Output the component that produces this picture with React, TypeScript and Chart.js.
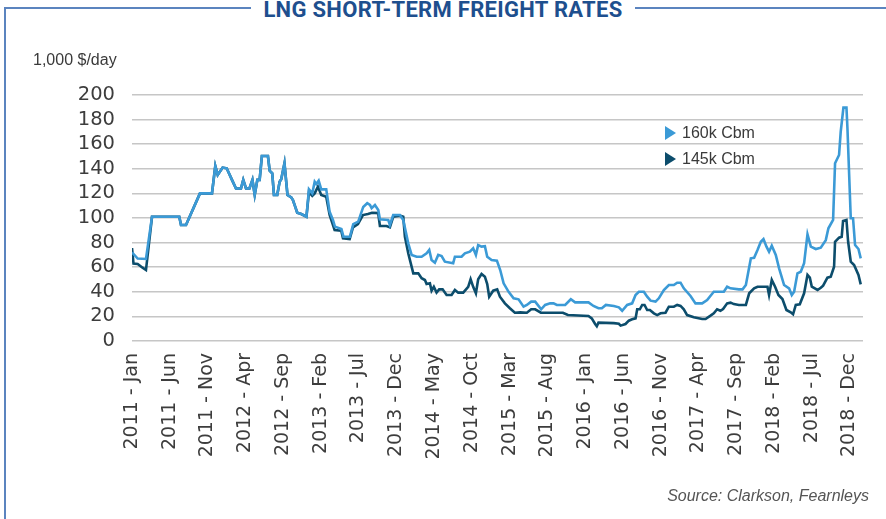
import React, { useEffect, useRef } from "react";
import { Chart, registerables } from "chart.js";

Chart.register(...registerables);

const TITLE = "LNG SHORT-TERM FREIGHT RATES";
const UNIT_LABEL = "1,000 $/day";
const SOURCE = "Source: Clarkson, Fearnleys";
const SERIES_NAMES = ["160k Cbm", "145k Cbm"];
const SERIES_COLORS = ["#3b9ad6", "#0c4d6c"];

// x positions are months since 2011 - Jan
const tickMonths = [0, 5, 10, 15, 20, 25, 30, 35, 40, 45, 50, 55, 60, 65, 70, 75, 80, 85, 90, 95];
const tickLabels = [
  "2011 - Jan", "2011 - Jun", "2011 - Nov", "2012 - Apr", "2012 - Sep",
  "2013 - Feb", "2013 - Jul", "2013 - Dec", "2014 - May", "2014 - Oct",
  "2015 - Mar", "2015 - Aug", "2016 - Jan", "2016 - Jun", "2016 - Nov",
  "2017 - Apr", "2017 - Sep", "2018 - Feb", "2018 - Jul", "2018 - Dec",
];
const yTicks = [0, 20, 40, 60, 80, 100, 120, 140, 160, 180, 200];

const months160 = [
  0, 0.75, 1.85, 2.65, 6.26, 6.49, 7.15, 9.0, 10.59, 11.03,
  11.35, 12.0, 12.54, 13.24, 13.77, 14.43, 14.73, 15.1, 15.55, 15.95,
  16.25, 16.6, 16.9, 17.2, 18.0, 18.23, 18.57, 18.8, 19.23, 19.55,
  19.76, 20.19, 20.59, 21.09, 21.31, 21.62, 21.88, 22.41, 23.1, 23.43,
  23.87, 24.19, 24.4, 24.72, 25.06, 25.72, 26.17, 26.61, 26.87, 27.73,
  28.0, 28.86, 29.3, 29.96, 30.62, 31.15, 31.51, 31.73, 32.17, 32.61,
  32.83, 33.93, 34.15, 34.59, 35.48, 35.92, 36.58, 37.03, 37.69, 38.35,
  39.01, 39.36, 39.67, 40.11, 40.55, 41.0, 41.43, 42.53, 42.76, 43.64,
  44.08, 44.74, 45.18, 45.54, 45.84, 46.29, 46.73, 47.04, 47.62, 48.32,
  48.76, 49.21, 49.87, 50.53, 51.19, 51.85, 52.29, 52.86, 53.39, 54.18,
  54.71, 55.37, 55.82, 56.26, 57.36, 58.11, 58.68, 60.45, 61.11, 61.77,
  62.22, 62.75, 63.81, 64.47, 64.91, 65.57, 66.23, 66.68, 67.12, 67.78,
  68.22, 68.67, 69.33, 69.76, 70.43, 71.09, 71.75, 72.19, 72.64, 73.07,
  73.96, 74.62, 75.5, 76.16, 77.04, 78.37, 78.81, 79.26, 80.36, 80.85,
  81.29, 81.95, 82.38, 82.83, 83.27, 83.62, 84.02, 84.36, 84.72, 85.25,
  85.69, 86.35, 87.01, 87.37, 87.68, 88.12, 88.56, 89.0, 89.45, 89.89,
  90.55, 91.21, 91.87, 92.22, 92.84, 93.1, 93.63, 93.85, 94.21, 94.61,
  94.74, 95.18, 95.48, 95.75, 96.2, 96.5,
];
const rates160 = [
  72, 67, 66.7, 101, 101, 94.3, 94.3, 120, 120, 142.3,
  135, 141, 140.4, 131, 124, 124, 131, 124, 124, 131,
  118.7, 131, 131, 150.4, 150.4, 138.5, 136.3, 118.7, 118.7, 129.5,
  131.5, 144.5, 118.7, 116.8, 114.6, 109, 104.3, 103.2, 101, 123.3,
  120, 129.5, 127.6, 130.3, 123.3, 123.3, 105, 98.4, 93, 91,
  84.8, 84.8, 95, 97, 109, 112, 110.6, 108, 110.6, 106.5,
  99, 98.4, 94.3, 102.4, 102.4, 98.4, 79.4, 70, 68.5, 68.5,
  71.3, 74, 65.9, 63.7, 70, 69, 64.5, 63.2, 68.5, 68.5,
  71.3, 72.6, 75.4, 70, 78, 76.7, 77, 68.5, 65.9, 65.3,
  57.7, 46.9, 40, 34.7, 33.9, 27.9, 29.3, 32, 32, 25.8,
  29.3, 30.6, 30.6, 29.3, 29.3, 33.9, 31.4, 31.4, 28.5, 26.6,
  26.6, 29.3, 28.5, 27.4, 24.6, 29.3, 30.6, 37.4, 40, 40,
  36, 32.8, 32, 34.7, 41.5, 45.5, 45.5, 47.4, 47.4, 42.8,
  36.6, 30.6, 30.6, 33.3, 40, 40, 44.1, 42.8, 42, 42,
  45.5, 67.2, 67.7, 74, 80.7, 82.9, 76.7, 72.6, 77.5, 70,
  59.1, 45.5, 42.8, 37.4, 40, 55, 56.3, 63.2, 86.7, 76.7,
  74.8, 75.9, 82, 91.6, 98.4, 144.5, 151.2, 170.2, 189.7, 189.7,
  173, 99.8, 99.8, 78, 74.8, 67.2,
];

const months145 = [
  0, 0.2, 0.75, 1.4, 1.85, 2.65, 6.26, 6.49, 7.15, 9.0,
  10.59, 11.03, 11.35, 12.0, 12.54, 13.24, 13.77, 14.43, 14.73, 15.1,
  15.55, 15.95, 16.25, 16.6, 16.9, 17.2, 18.0, 18.23, 18.57, 18.8,
  19.23, 19.55, 19.76, 20.19, 20.59, 21.09, 21.31, 21.62, 21.88, 22.41,
  23.1, 23.43, 23.87, 24.19, 24.62, 25.06, 25.72, 26.17, 26.83, 27.71,
  27.94, 28.82, 29.26, 29.92, 30.58, 31.24, 31.78, 32.6, 32.83, 33.71,
  34.15, 34.59, 35.48, 35.92, 36.14, 36.58, 37.25, 37.91, 38.35, 38.79,
  39.01, 39.45, 39.67, 39.97, 40.33, 40.68, 41.13, 41.66, 42.32, 42.76,
  43.2, 43.86, 44.52, 44.84, 45.18, 45.54, 45.84, 46.29, 46.73, 47.04,
  47.3, 47.83, 48.36, 48.72, 49.38, 50.04, 50.7, 51.4, 52.29, 52.86,
  53.39, 54.14, 57.06, 57.72, 60.45, 60.88, 61.33, 61.55, 61.77, 63.8,
  64.47, 64.7, 65.35, 65.79, 66.23, 66.68, 66.9, 67.25, 67.56, 67.87,
  68.22, 68.58, 69.11, 69.55, 69.99, 70.65, 71.09, 71.75, 72.19, 72.64,
  73.07, 73.51, 74.4, 75.5, 75.95, 76.61, 77.04, 77.48, 77.92, 78.27,
  78.81, 79.26, 79.7, 80.36, 81.29, 81.73, 82.38, 82.83, 84.15, 84.36,
  84.72, 85.16, 85.6, 86.13, 86.66, 87.23, 87.54, 87.9, 88.43, 89.0,
  89.45, 89.76, 90.02, 90.78, 91.21, 91.52, 92.09, 92.53, 92.97, 93.1,
  93.63, 93.98, 94.16, 94.61, 94.83, 95.18, 95.62, 96.2, 96.5,
];
const rates145 = [
  75.6, 63, 62.6, 59.6, 57.7, 101, 101, 94.3, 94.3, 120,
  120, 142.3, 135, 141, 140.4, 131, 124, 124, 131, 124,
  124, 131, 118.7, 131, 131, 150.4, 150.4, 138.5, 136.3, 118.7,
  118.7, 129.5, 131.5, 144.5, 118.7, 116.8, 114.6, 109, 104.3, 103.2,
  101, 121, 118, 120, 125.5, 118.7, 117.3, 102.4, 90.2, 89.7,
  83.5, 82.9, 92.4, 95, 102.4, 103.2, 104.3, 104, 93.5, 93.5,
  92.4, 101, 101.9, 101, 84.8, 71.3, 55, 55, 51, 49.6,
  46.3, 46.9, 40.9, 44.1, 39.3, 42, 42, 37.4, 37.4, 41.5,
  39.3, 39.3, 44, 50.2, 44, 38.8, 50.2, 54.5, 52.3, 46.3,
  36, 40.9, 42, 36, 30.6, 26.6, 23, 23.3, 23, 25.8,
  25.8, 23, 23, 21.1, 20.3, 18.4, 13.8, 12, 14.9, 14.5,
  14, 12.5, 13.8, 16.5, 17.6, 18.4, 25.8, 25.8, 29.3, 29.3,
  25.2, 25.2, 22.5, 21.1, 22.5, 23, 27.9, 27.9, 29.3, 28.5,
  25.8, 21.1, 19.3, 17.9, 17.9, 20.6, 22.5, 25.8, 24.6, 26,
  30.6, 31.2, 30, 29.3, 29.3, 38.8, 42.8, 44.1, 44.1, 37.4,
  49.6, 44.1, 37.4, 34.1, 25.2, 23.3, 21.7, 29.3, 29.8, 38.8,
  53.7, 51.5, 44.1, 41.5, 43.3, 45, 51.5, 52.3, 60.4, 80.7,
  84, 84.8, 97.6, 98.4, 80.7, 64.5, 61.8, 53.7, 46,
];

const TICK_COLOR = "#3d3d3d";
const AXIS_FONT = "'DejaVu Sans', sans-serif";

export default function App() {
  const canvasRef = useRef<HTMLCanvasElement | null>(null);

  useEffect(() => {
    if (!canvasRef.current) return;
    const chart = new Chart(canvasRef.current, {
      type: "line",
      data: {
        datasets: [
          {
            label: SERIES_NAMES[0],
            data: months160.map((m, i) => ({ x: m, y: rates160[i] })),
            borderColor: SERIES_COLORS[0],
            backgroundColor: SERIES_COLORS[0],
            borderWidth: 2.6,
            pointRadius: 0,
            tension: 0,
            fill: false,
          },
          {
            label: SERIES_NAMES[1],
            data: months145.map((m, i) => ({ x: m, y: rates145[i] })),
            borderColor: SERIES_COLORS[1],
            backgroundColor: SERIES_COLORS[1],
            borderWidth: 2.6,
            pointRadius: 0,
            tension: 0,
            fill: false,
          },
        ],
      },
      options: {
        responsive: false,
        animation: false,
        layout: { padding: { left: 0, top: 95, right: 23, bottom: 0 } },
        plugins: {
          legend: { display: false },
          tooltip: { enabled: false },
        },
        scales: {
          x: {
            type: "linear",
            min: 0,
            max: 96.8,
            grid: { display: false, drawTicks: false },
            border: { display: false },
            afterBuildTicks: (scale: any) => {
              scale.ticks = tickMonths.map((v) => ({ value: v }));
            },
            afterFit: (scale: any) => {
              scale.height = 178;
            },
            ticks: {
              autoSkip: false,
              maxRotation: 90,
              minRotation: 90,
              padding: 12,
              color: TICK_COLOR,
              font: { family: AXIS_FONT, size: 19 },
              callback: (value: any) => {
                const idx = tickMonths.indexOf(Number(value));
                return idx >= 0 ? tickLabels[idx] : "";
              },
            },
          },
          y: {
            type: "linear",
            min: 0,
            max: 200,
            afterBuildTicks: (scale: any) => {
              scale.ticks = yTicks.map((v) => ({ value: v }));
            },
            afterFit: (scale: any) => {
              scale.width = 132;
            },
            grid: { color: "#c6c6c6", lineWidth: 1.5, drawTicks: false },
            border: { display: false },
            ticks: {
              autoSkip: false,
              padding: 17,
              color: TICK_COLOR,
              font: { family: AXIS_FONT, size: 19.5, lineHeight: 1 },
            },
          },
        },
      },
    });
    return () => chart.destroy();
  }, []);

  const frameColor = "#5b84bf";

  return (
    <div
      style={{
        position: "absolute",
        left: 0,
        top: 0,
        width: 886,
        height: 519,
        background: "#ffffff",
        overflow: "hidden",
      }}
    >
      <canvas
        ref={canvasRef}
        width={886}
        height={519}
        style={{ position: "absolute", left: 0, top: 0, width: 886, height: 519 }}
      />
      <div style={{ position: "absolute", left: 4, top: 7, width: 882, height: 2, background: frameColor }} />
      <div style={{ position: "absolute", left: 4, top: 7, width: 2, height: 512, background: frameColor }} />
      <div
        style={{
          position: "absolute",
          left: 0,
          top: -1,
          width: 886,
          textAlign: "center",
          lineHeight: "22px",
          fontFamily: "Roboto, sans-serif",
          fontWeight: 700,
          fontSize: 22,
          letterSpacing: 0.3,
          color: "#1e4f8e",
        }}
      >
        <span style={{ background: "#ffffff", padding: "0 12px" }}>{TITLE}</span>
      </div>
      <div
        style={{
          position: "absolute",
          left: 33,
          top: 52,
          fontFamily: "'Liberation Sans', Arial, sans-serif",
          fontSize: 16,
          lineHeight: "16px",
          color: "#3a3a3a",
          whiteSpace: "nowrap",
        }}
      >
        {UNIT_LABEL}
      </div>
      {SERIES_NAMES.map((name, i) => (
        <div
          key={name}
          style={{
            position: "absolute",
            left: 665,
            top: 125 + i * 25.5,
            height: 16,
            display: "flex",
            alignItems: "center",
            whiteSpace: "nowrap",
          }}
        >
          <div
            style={{
              width: 0,
              height: 0,
              borderTop: "7.5px solid transparent",
              borderBottom: "7.5px solid transparent",
              borderLeft: `11px solid ${SERIES_COLORS[i]}`,
            }}
          />
          <span
            style={{
              marginLeft: 6,
              fontFamily: "'Liberation Sans', Arial, sans-serif",
              fontSize: 16,
              lineHeight: "16px",
              color: "#3a3a3a",
            }}
          >
            {name}
          </span>
        </div>
      ))}
      <div
        style={{
          position: "absolute",
          right: 17,
          top: 488,
          fontFamily: "'Liberation Sans', Arial, sans-serif",
          fontStyle: "italic",
          fontSize: 16,
          lineHeight: "16px",
          color: "#555555",
          whiteSpace: "nowrap",
        }}
      >
        {SOURCE}
      </div>
    </div>
  );
}
